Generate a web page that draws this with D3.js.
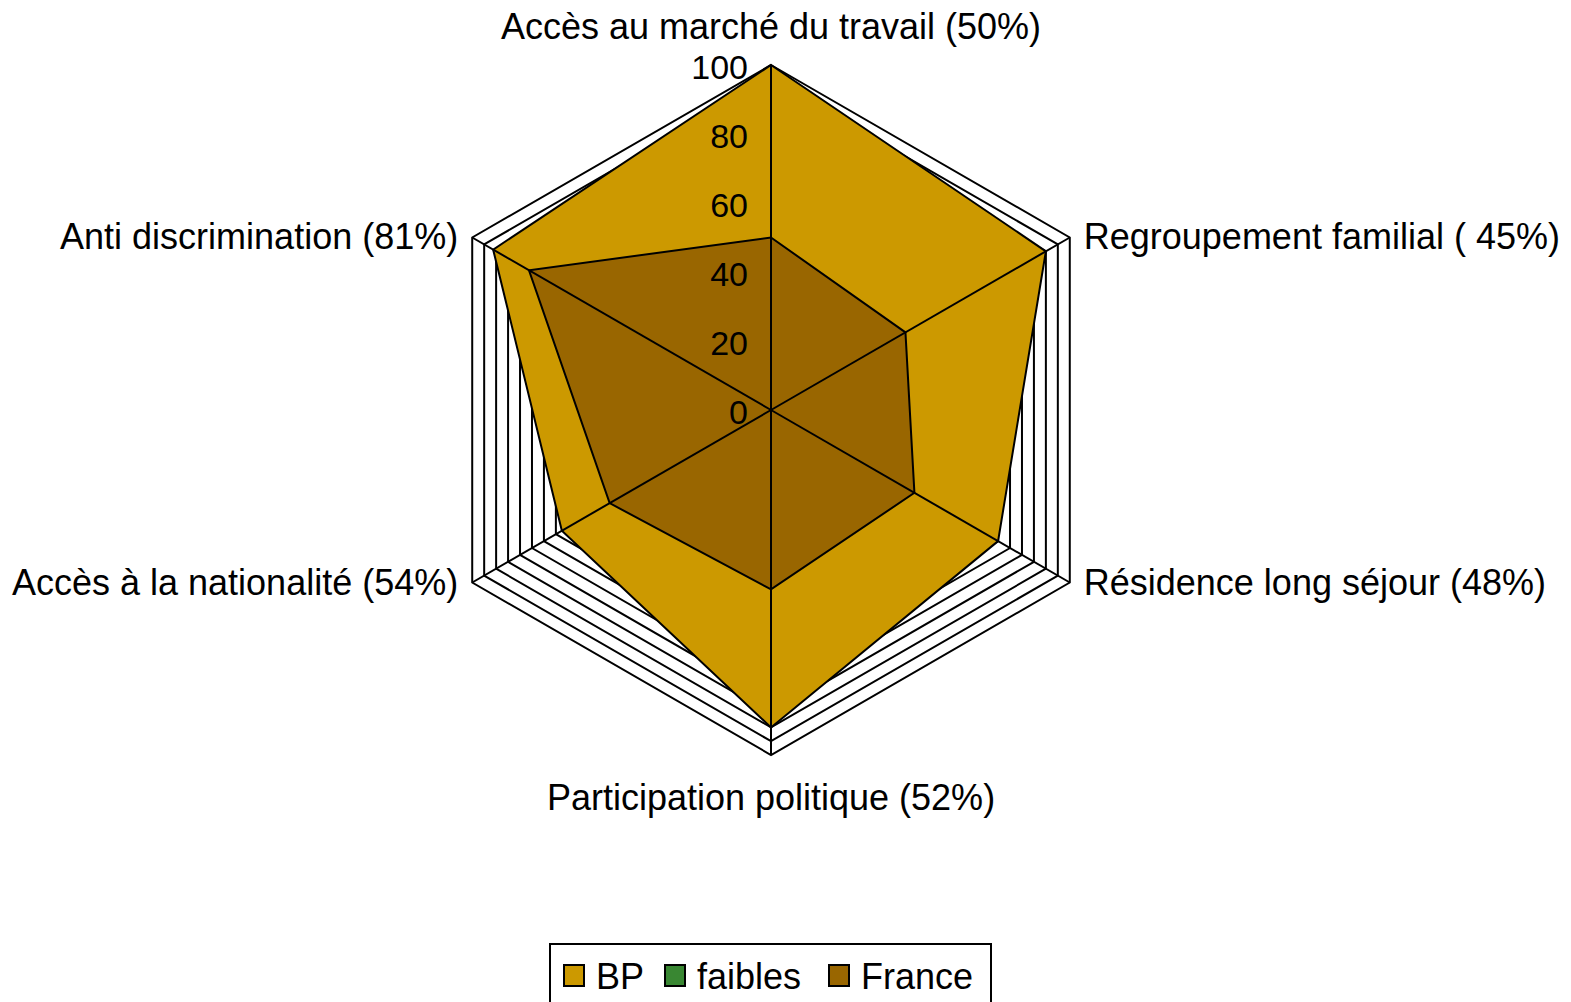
<!DOCTYPE html>
<html>
<head>
<meta charset="utf-8">
<script src="https://cdn.jsdelivr.net/npm/d3@7"></script>
<style>
  body { margin: 0; background: #fff; }
  text { font-family: "Liberation Sans", Arial, sans-serif; fill: #000; }
</style>
</head>
<body>
<svg id="chart" width="1571" height="1002"></svg>
<script>
// axes of the radar, clockwise from the top
const categories = [
    "Accès au marché du travail (50%)",
    "Regroupement familial ( 45%)",
    "Résidence long séjour (48%)",
    "Participation politique (52%)",
    "Accès à la nationalité (54%)",
    "Anti discrimination (81%)"
];
const bpValues = [100, 92, 76, 92, 70, 93];
const faiblesValues = [0, 0, 0, 0, 0, 0];
const franceValues = [50, 45, 48, 52, 54, 81];
const tickLabels = [0, 20, 40, 60, 80, 100];
const seriesNames = ["BP", "faibles", "France"];
const seriesColors = ["#cc9900", "#398732", "#996600"];

let cx = 771, cy = 410, radius = 345;
let fontSize = 36;
let tickFontSize = 34;

const svg = d3.select("#chart");

let r = d3.scaleLinear().domain([0, 100]).range([0, radius]);
let angle = d3.scaleLinear().domain([0, categories.length]).range([0, 2 * Math.PI]);

function pt(i, v) {
    let a = angle(i) - Math.PI / 2;
    return [cx + r(v) * Math.cos(a), cy + r(v) * Math.sin(a)];
}

let g = svg.append("g");

// grid rings (minor every 4)
let rings = d3.range(4, 101, 4);
g.selectAll(".ring")
    .data(rings)
    .enter().append("polygon")
    .attr("class", "ring")
    .attr("points", v => categories.map((c, i) => pt(i, v).join(",")).join(" "))
    .attr("fill", "none")
    .attr("stroke", "#000")
    .attr("stroke-width", 2);

// filled series
let allSeries = [bpValues, faiblesValues, franceValues];
g.selectAll(".area")
    .data(allSeries)
    .enter().append("polygon")
    .attr("class", "area")
    .attr("points", d => d.map((v, i) => pt(i, v).join(",")).join(" "))
    .attr("fill", (d, i) => seriesColors[i])
    .attr("stroke", "#000")
    .attr("stroke-width", 2)
    .attr("stroke-linejoin", "miter");

// spokes
g.selectAll(".spoke")
    .data(categories)
    .enter().append("line")
    .attr("x1", cx).attr("y1", cy)
    .attr("x2", (d, i) => pt(i, 100)[0])
    .attr("y2", (d, i) => pt(i, 100)[1])
    .attr("stroke", "#000")
    .attr("stroke-width", 2);

// value labels along the top axis
g.selectAll(".tick")
    .data(tickLabels)
    .enter().append("text")
    .attr("x", cx - 23)
    .attr("y", d => cy - r(d) + 2)
    .attr("dy", "0.35em")
    .attr("text-anchor", "end")
    .style("font-size", tickFontSize + "px")
    .text(d => d);

// category labels
let labelPos = [
    { dx: 0, dy: -39, anchor: "middle" },
    { dx: 14, dy: -1, anchor: "start" },
    { dx: 14, dy: 0, anchor: "start" },
    { dx: 0, dy: 42, anchor: "middle" },
    { dx: -14, dy: 0, anchor: "end" },
    { dx: -14, dy: -1, anchor: "end" }
];
g.selectAll(".cat")
    .data(categories)
    .enter().append("text")
    .attr("x", (d, i) => pt(i, 100)[0] + labelPos[i].dx)
    .attr("y", (d, i) => pt(i, 100)[1] + labelPos[i].dy)
    .attr("dy", "0.35em")
    .attr("text-anchor", (d, i) => labelPos[i].anchor)
    .style("font-size", fontSize + "px")
    .text(d => d);

// legend
let legend = svg.append("g");
legend.append("rect")
    .attr("x", 550).attr("y", 944)
    .attr("width", 441).attr("height", 80)
    .attr("fill", "#fff")
    .attr("stroke", "#000")
    .attr("stroke-width", 2);
let legendX = [564, 665, 829];
legend.selectAll(".lsq")
    .data(seriesNames)
    .enter().append("rect")
    .attr("x", (d, i) => legendX[i])
    .attr("y", 965)
    .attr("width", 20).attr("height", 21)
    .attr("fill", (d, i) => seriesColors[i])
    .attr("stroke", "#000")
    .attr("stroke-width", 2);
legend.selectAll(".ltx")
    .data(seriesNames)
    .enter().append("text")
    .attr("x", (d, i) => legendX[i] + 32)
    .attr("y", 976)
    .attr("dy", "0.35em")
    .style("font-size", fontSize + "px")
    .text(d => d);
</script>
</body>
</html>
